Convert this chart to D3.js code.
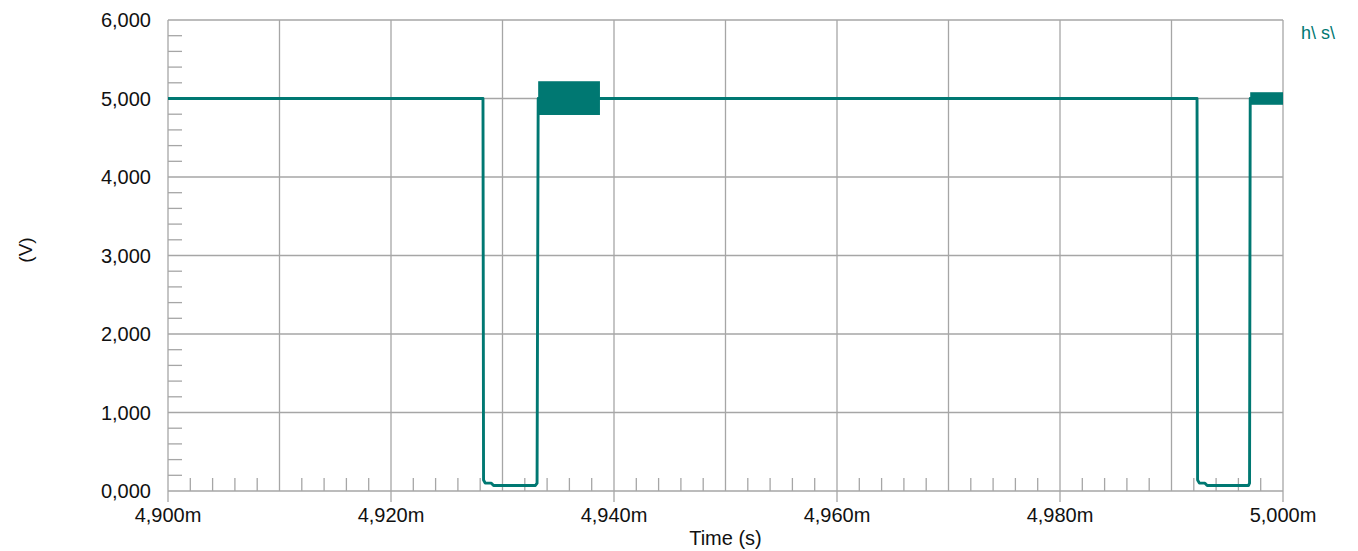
<!DOCTYPE html>
<html><head><meta charset="utf-8">
<script src="https://cdn.jsdelivr.net/npm/d3@7"></script>
<style>body{margin:0;background:#fff;} text{font-family:"Liberation Sans",Arial,sans-serif;}</style>
</head><body>
<svg id="c" width="1358" height="551"></svg>
<script>
// Data (time in s, voltage in V)
const timeS = [4.900, 4.92825, 4.92830, 4.92845, 4.92900, 4.92920, 4.93295, 4.93310, 4.93320, 4.99229, 4.99234, 4.99250, 4.99300, 4.99320, 4.99690, 4.99700, 4.99706, 5.000];
const voltV = [5.00, 5.00, 0.14, 0.10, 0.10, 0.07, 0.07, 0.10, 5.00, 5.00, 0.14, 0.10, 0.10, 0.07, 0.07, 0.10, 5.00, 5.00];
// ringing envelopes: [start, end, low, high]
const bandStart = [4.93320, 4.99706];
const bandEnd   = [4.93874, 5.00000];
const bandLow   = [4.79, 4.92];
const bandHigh  = [5.22, 5.08];
const residStart = [4.93874], residEnd = [4.94820], residLow = [4.99], residHigh = [5.015];
const xTicks = [4.90, 4.92, 4.94, 4.96, 4.98, 5.00];
const xTickLabels = ["4,900m", "4,920m", "4,940m", "4,960m", "4,980m", "5,000m"];
const yTicks = [0, 1, 2, 3, 4, 5, 6];
const yTickLabels = ["0,000", "1,000", "2,000", "3,000", "4,000", "5,000", "6,000"];
const seriesName = "h\\ s\\";

const color = "#007872";
const svg = d3.select("#c");
const L = 168, R = 1283, T = 20, B = 491;
const x = d3.scaleLinear().domain([4.9, 5.0]).range([L, R]);
const y = d3.scaleLinear().domain([0, 6]).range([B, T]);
const grid = "#a6a6a6";

// vertical gridlines every 0.01
const vg = d3.range(0, 11).map(i => 4.9 + i * 0.01);
svg.append("g").selectAll("line").data(vg).join("line")
  .attr("x1", d => x(d)).attr("x2", d => x(d)).attr("y1", T).attr("y2", B)
  .attr("stroke", grid).attr("stroke-width", 1.3);
// horizontal gridlines
svg.append("g").selectAll("line").data(yTicks).join("line")
  .attr("x1", L).attr("x2", R).attr("y1", d => y(d)).attr("y2", d => y(d))
  .attr("stroke", grid).attr("stroke-width", 1.3);
// minor y ticks
const yMinor = d3.range(0, 30).map(i => i * 0.2).filter((d, i) => i % 5 !== 0);
svg.append("g").selectAll("line").data(yMinor).join("line")
  .attr("x1", L).attr("x2", L + 14).attr("y1", d => y(d)).attr("y2", d => y(d))
  .attr("stroke", grid).attr("stroke-width", 1.3);
// minor x ticks
const xMinor = d3.range(0, 50).map(i => 4.9 + i * 0.002).filter((d, i) => i % 5 !== 0);
svg.append("g").selectAll("line").data(xMinor).join("line")
  .attr("x1", d => x(d)).attr("x2", d => x(d)).attr("y1", B).attr("y2", B - 13)
  .attr("stroke", grid).attr("stroke-width", 1.3);
// major x tick extensions below axis
svg.append("g").selectAll("line").data(xTicks).join("line")
  .attr("x1", d => x(d)).attr("x2", d => x(d)).attr("y1", B).attr("y2", B + 11)
  .attr("stroke", grid).attr("stroke-width", 1.3);

// labels
svg.append("g").selectAll("text").data(xTicks).join("text")
  .attr("x", d => x(d)).attr("y", B + 31).attr("text-anchor", "middle")
  .attr("font-size", 20).attr("fill", "#111").text((d, i) => xTickLabels[i]);
svg.append("g").selectAll("text").data(yTicks).join("text")
  .attr("x", 151).attr("y", d => y(d) + 7).attr("text-anchor", "end")
  .attr("font-size", 20).attr("fill", "#111").text((d, i) => yTickLabels[i]);
svg.append("text").attr("x", (L + R) / 2).attr("y", 545).attr("text-anchor", "middle")
  .attr("font-size", 20).attr("fill", "#111").text("Time (s)");
svg.append("text").attr("transform", "translate(32,250) rotate(-90)").attr("text-anchor", "middle")
  .attr("font-size", 19).attr("fill", "#111").text("(V)");
svg.append("text").attr("x", 1301).attr("y", 39).attr("font-size", 18).attr("fill", color).text(seriesName);

// ringing bands
svg.append("g").selectAll("rect").data(bandStart).join("rect")
  .attr("x", (d, i) => x(d)).attr("width", (d, i) => x(bandEnd[i]) - x(d))
  .attr("y", (d, i) => y(bandHigh[i])).attr("height", (d, i) => y(bandLow[i]) - y(bandHigh[i]))
  .attr("fill", color);
svg.append("g").selectAll("rect").data(residStart).join("rect")
  .attr("x", (d, i) => x(d)).attr("width", (d, i) => x(residEnd[i]) - x(d))
  .attr("y", (d, i) => y(residHigh[i])).attr("height", (d, i) => y(residLow[i]) - y(residHigh[i]))
  .attr("fill", color).attr("opacity", 0.35);

// signal
const pts = timeS.map((t, i) => [t, voltV[i]]);
svg.append("path").datum(pts)
  .attr("d", d3.line().x(d => x(d[0])).y(d => y(d[1])))
  .attr("fill", "none").attr("stroke", color).attr("stroke-width", 2.9)
  .attr("stroke-linejoin", "round");
</script>
</body></html>
